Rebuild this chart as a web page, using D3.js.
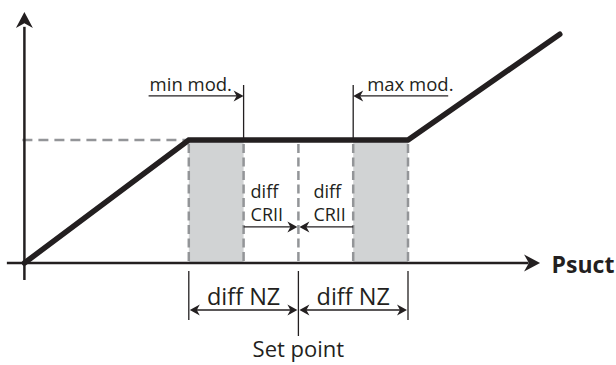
<!DOCTYPE html>
<html>
<head>
<meta charset="utf-8">
<script src="https://cdn.jsdelivr.net/npm/d3@7"></script>
<style>
  body { margin: 0; background: #fff; }
  text { font-family: "Open Sans", "DejaVu Sans", sans-serif; fill: #231f20; }
</style>
</head>
<body>
<div id="chart"></div>
<script>
// Chart size
const width = 616;
const height = 365;

// Control curve (suction pressure -> capacity)
const pressure = [0, 3, 7, 9.77];
const capacity = [0, 100, 100, 186];

// Regulation parameters (pressure units)
const setPoint = 5;
const diffNZ = 2;
const diffCRII = 1;

// Labels
const modLabels = ["min mod.", "max mod."];
const crLabels = ["diff", "CRII"];
const nzLabel = "diff NZ";
const spLabel = "Set point";
const xLabel = "Psuct";

const ink = "#231f20";
const dashGrey = "#939598";
const zoneFill = "#d1d3d4";

const svg = d3.select("#chart")
  .append("svg")
  .attr("width", width)
  .attr("height", height);

// Scales
const x = d3.scaleLinear().domain([0, 10]).range([24.4, 572.4]);
const y = d3.scaleLinear().domain([0, 100]).range([263, 140]);

const x0 = x(0), y0 = y(0);

// arrowhead pointing along angle (radians), tip at (tx,ty)
function arrowHead(g, tx, ty, angle, len, wid) {
  const pts = [[0, 0], [-len, -wid / 2], [-len * 0.7, 0], [-len, wid / 2]];
  const c = Math.cos(angle), s = Math.sin(angle);
  const p = pts.map(([px, py]) => [tx + px * c - py * s, ty + px * s + py * c]);
  g.append("path")
    .attr("d", "M" + p.map(d => d.join(",")).join("L") + "Z")
    .attr("fill", ink);
}

// Shaded modulation zones
const zones = [
  [setPoint - diffNZ, setPoint - diffCRII],
  [setPoint + diffCRII, setPoint + diffNZ]
];
svg.selectAll(".zone")
  .data(zones)
  .enter()
  .append("rect")
    .attr("class", "zone")
    .attr("x", d => x(d[0]))
    .attr("y", y(100))
    .attr("width", d => x(d[1]) - x(d[0]))
    .attr("height", y0 - y(100))
    .attr("fill", zoneFill);

// Dashed guides
const guides = [setPoint - diffNZ, setPoint - diffCRII, setPoint, setPoint + diffCRII, setPoint + diffNZ];
svg.selectAll(".guide")
  .data(guides)
  .enter()
  .append("line")
    .attr("x1", d => x(d)).attr("x2", d => x(d))
    .attr("y1", y(100) + 4).attr("y2", y0)
    .attr("stroke", dashGrey)
    .attr("stroke-width", 2.5)
    .attr("stroke-dasharray", "9,4.5");

svg.append("line")
  .attr("x1", x0 - 2).attr("x2", x(setPoint - diffNZ))
  .attr("y1", y(100)).attr("y2", y(100))
  .attr("stroke", dashGrey)
  .attr("stroke-width", 2.5)
  .attr("stroke-dasharray", "10,6");

// Axes
svg.append("line")
  .attr("x1", x(-0.32)).attr("x2", x(9.2))
  .attr("y1", y0).attr("y2", y0)
  .attr("stroke", ink).attr("stroke-width", 2.5);
arrowHead(svg, x(9.41), y0, 0, 16, 17);

svg.append("line")
  .attr("x1", x0).attr("x2", x0)
  .attr("y1", y(-13.8)).attr("y2", y(192))
  .attr("stroke", ink).attr("stroke-width", 2.5);
arrowHead(svg, x0, y(204), -Math.PI / 2, 16, 17);

svg.append("text")
  .attr("x", x(9.62)).attr("y", y0 + 10)
  .attr("font-size", 23).attr("font-weight", "bold")
  .text(xLabel);

// Control curve
const curve = pressure.map((p, i) => [p, capacity[i]]);
svg.append("path")
  .datum(curve)
  .attr("d", d3.line().x(d => x(d[0])).y(d => y(d[1])))
  .attr("fill", "none")
  .attr("stroke", ink)
  .attr("stroke-width", 5.5)
  .attr("stroke-linecap", "round");

// min / max modulation markers
const mods = [setPoint - diffCRII, setPoint + diffCRII];
mods.forEach((m, i) => {
  svg.append("line")
    .attr("x1", x(m)).attr("x2", x(m))
    .attr("y1", y(144.7)).attr("y2", y(100))
    .attr("stroke", ink).attr("stroke-width", 1.3);
  const dir = i === 0 ? -1 : 1;
  const far = x(m) + dir * 95;
  svg.append("line")
    .attr("x1", far).attr("x2", x(m) + dir * 6)
    .attr("y1", y(135.8)).attr("y2", y(135.8))
    .attr("stroke", ink).attr("stroke-width", 1.3);
  arrowHead(svg, x(m), y(135.8), i === 0 ? 0 : Math.PI, 10, 11);
  svg.append("text")
    .attr("x", i === 0 ? far + 1 : x(m) + 14)
    .attr("y", y(140))
    .attr("font-size", 18.5)
    .text(modLabels[i]);
});

// diff CRII arrows
mods.forEach((m, i) => {
  const ang = i === 0 ? 0 : Math.PI;
  const tip = x(setPoint) + (i === 0 ? -1 : 1);
  svg.append("line")
    .attr("x1", x(m)).attr("x2", tip + (i === 0 ? -6 : 6))
    .attr("y1", y(29.3)).attr("y2", y(29.3))
    .attr("stroke", ink).attr("stroke-width", 1.3);
  arrowHead(svg, tip, y(29.3), ang, 10, 11);
  const tx = i === 0 ? x(m) + 7 : x(setPoint) + 15;
  svg.append("text").attr("x", tx).attr("y", y(52.8)).attr("font-size", 18).text(crLabels[0]);
  svg.append("text").attr("x", tx).attr("y", y(34)).attr("font-size", 18).text(crLabels[1]);
});

// diff NZ dimensions
const nzEdges = [setPoint - diffNZ, setPoint, setPoint + diffNZ];
nzEdges.forEach(e => {
  svg.append("line")
    .attr("x1", x(e)).attr("x2", x(e))
    .attr("y1", y0 + 8).attr("y2", e === setPoint ? y0 + 73 : y0 + 57)
    .attr("stroke", ink).attr("stroke-width", 1.3);
});
[[setPoint - diffNZ, setPoint], [setPoint, setPoint + diffNZ]].forEach(([a, b]) => {
  const ay = y0 + 47;
  svg.append("line")
    .attr("x1", x(a) + 6).attr("x2", x(b) - 6)
    .attr("y1", ay).attr("y2", ay)
    .attr("stroke", ink).attr("stroke-width", 1.3);
  arrowHead(svg, x(a) + 1, ay, Math.PI, 10, 11);
  arrowHead(svg, x(b) - 1, ay, 0, 10, 11);
  svg.append("text")
    .attr("x", (x(a) + x(b)) / 2).attr("y", y0 + 42)
    .attr("text-anchor", "middle")
    .attr("font-size", 23.5)
    .text(nzLabel);
});

svg.append("text")
  .attr("x", x(setPoint)).attr("y", y0 + 94)
  .attr("text-anchor", "middle")
  .attr("font-size", 22)
  .text(spLabel);
</script>
</body>
</html>
